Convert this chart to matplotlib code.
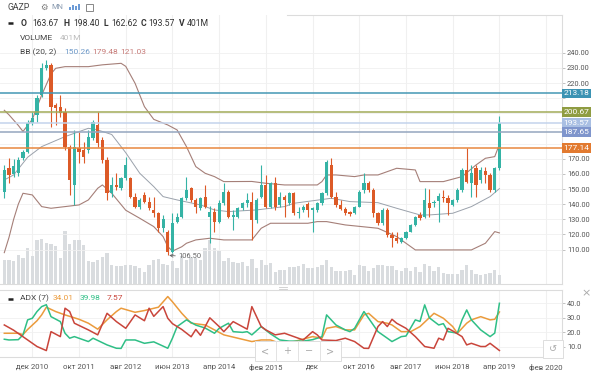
import matplotlib
matplotlib.use('Agg')
import matplotlib.pyplot as plt
from matplotlib.patches import Rectangle
from matplotlib.transforms import blended_transform_factory

plt.rcParams['font.family'] = ['Roboto', 'DejaVu Sans']

# ---------------- data (monthly candles, Jun 2010 .. Apr 2019) ----------------
opens = [148.3,163.7,159.8,160.4,170.3,174.7,193.4,198.9,212.1,229.7,
         231.9,205.5,204.4,201.0,178.0,152.7,176.9,175.8,175.8,183.5,
         192.3,182.4,169.2,147.2,152.7,150.5,157.1,157.1,145.0,138.4,
         146.1,141.7,136.2,134.0,124.1,121.9,108.7,128.5,131.8,143.9,
         150.5,142.8,137.3,145.0,131.8,135.1,128.5,140.6,148.3,131.8,
         131.8,137.3,140.6,141.7,129.6,145.0,152.7,138.4,153.8,139.5,
         145.0,140.6,147.2,134.0,136.2,140.1,136.2,136.2,140.6,147.2,
         165.9,145.0,139.5,136.6,134.6,134.0,138.4,149.4,153.8,149.4,
         134.0,127.4,136.2,119.7,117.9,115.3,117.5,121.9,126.3,132.9,
         131.8,140.6,140.6,142.3,145.0,143.9,139.5,142.8,149.4,162.6,
         153.8,163.7,156.0,161.9,159.3,149.4,163.67]
highs = [165.9,170.3,170.0,171.0,175.8,195.6,201.0,212.1,233.0,235.2,
         233.0,207.0,212.0,203.3,179.1,189.0,187.9,181.3,189.0,195.6,
         201.1,184.6,171.4,158.2,160.4,158.2,171.4,158.2,147.2,144.0,
         148.3,145.0,145.0,135.1,133.0,123.0,134.0,134.0,145.0,158.2,
         151.6,143.9,145.0,152.7,139.0,137.3,142.8,153.8,149.4,136.2,
         138.4,141.7,147.2,148.3,143.9,165.9,159.3,154.9,158.2,148.3,
         146.1,148.3,148.3,138.4,139.5,141.7,138.0,141.7,148.3,169.2,
         170.3,148.3,142.8,138.4,135.5,139.0,149.4,160.4,155.0,150.5,
         135.1,137.3,137.3,121.9,121.9,118.5,122.5,127.0,132.5,135.1,
         150.5,149.8,142.8,147.2,149.4,146.1,143.5,150.5,163.7,176.9,
         165.9,165.9,164.8,164.8,160.4,164.8,198.40]
lows = [143.9,153.8,158.0,158.5,169.0,173.6,192.3,194.5,211.0,228.6,
        191.2,192.3,197.8,175.8,146.1,139.5,167.0,167.0,173.6,182.4,
        178.0,167.0,142.8,145.0,149.4,149.4,156.0,143.9,137.3,137.0,
        140.6,136.2,131.8,121.9,121.9,106.5,107.6,127.4,130.7,142.8,
        141.7,134.0,136.2,137.3,114.2,121.9,127.4,139.5,130.7,123.0,
        131.0,136.0,138.4,116.4,127.4,143.9,137.3,137.3,136.2,138.4,
        131.8,139.5,132.9,130.7,135.0,131.8,121.9,135.0,139.5,146.1,
        143.9,138.4,136.2,132.9,132.5,133.5,138.0,147.2,148.3,131.8,
        126.3,126.3,118.6,112.0,114.6,114.5,117.0,121.5,125.5,129.6,
        130.7,131.8,138.4,128.5,141.7,132.9,139.0,141.7,148.3,154.0,
        145.0,145.0,153.8,153.8,148.3,148.3,162.62]
closes = [162.6,159.3,165.0,169.2,174.7,193.4,196.7,209.9,229.7,231.9,
          204.4,203.3,200.0,178.0,156.0,178.0,174.7,171.4,184.6,194.5,
          180.2,169.2,147.2,152.7,151.6,157.1,165.9,145.0,138.4,142.8,
          141.7,137.3,134.0,124.1,130.0,108.7,127.4,131.8,143.9,149.4,
          142.8,138.4,143.9,138.4,135.1,128.5,140.6,148.3,131.8,133.0,
          137.3,140.6,142.8,129.6,142.8,152.7,138.4,153.8,138.4,145.0,
          142.8,147.2,134.0,135.0,138.4,136.2,137.3,140.6,147.2,168.1,
          145.0,139.5,136.6,134.0,133.5,138.4,148.3,153.8,149.4,134.0,
          127.4,136.2,119.7,117.5,115.7,117.5,121.9,126.3,131.8,130.7,
          142.8,137.3,141.7,145.4,143.9,140.6,142.8,149.4,162.6,154.9,
          160.4,152.7,162.6,159.3,149.4,163.7,193.57]
volumes = [1045,1045,1002,1260,1118,1548,1187,1905,1948,1763,
           1720,1617,1118,2292,1720,1905,1905,1690,972,946,
           1045,1144,1333,830,757,757,830,800,757,688,
           516,800,1045,1088,860,830,972,688,1187,1045,
           1144,1118,1045,1548,1905,1548,1402,972,1118,946,
           903,946,757,1088,688,1045,830,903,516,615,
           594,710,714,757,860,688,688,714,830,1045,
           714,572,542,542,615,400,830,757,572,688,
           800,800,757,757,615,542,688,572,714,516,
           860,757,542,714,473,430,430,430,615,800,
           615,430,400,430,473,615,401]

# Bollinger bands (20, 2)
bb_up_idx = [0,1,3,4,6,8,10,11,13,18,21,25,26,28,30,32,35,37,39,41,
             43,45,47,53,56,60,67,68,69,71,75,77,80,84,88,89,94,98,101,103,105,106]
bb_up_val = [202,199,192,188,196,212,226,229.7,230.8,230.8,232,233,231,219.8,204.4,196,192.3,189,178,164.8,
             160.4,158.2,154.9,155,153.8,152.7,152.7,154.9,159.3,159.3,158.2,159.3,159.3,163.7,162.6,154.9,154.9,158.2,165.9,170.3,171.4,179.48]
bb_mid_idx = [0,2,5,8,13,18,20,23,26,29,32,34,37,42,45,48,54,60,62,70,74,80,84,89,91,96,100,104,106]
bb_mid_val = [156,159.3,171,178,184.6,190.1,189,186,174,160.4,151.6,145,142.8,139.5,136.2,135.1,136.2,138.4,140.6,143.9,
              141.7,141,137.3,132.9,132.9,134,138.4,145,150.26]
bb_lo_idx = [0,1,2,3,4,6,8,10,13,16,18,20,21,23,26,29,32,34,35,36,
             38,39,41,44,47,53,55,57,65,67,69,73,80,84,88,94,100,103,105,106]
bb_lo_val = [108,118,130,140,147.2,146.1,138.4,137.3,138.4,139.5,142.8,150.5,152.7,147.2,136,130.7,125.2,118.6,112,109,
             111.9,114.2,116.4,117.5,116.4,116.4,124.1,127.4,127.4,128.5,128.5,126.3,124.1,118.6,109.8,109.8,109.8,114.2,121.9,121.03]

# ADX (7): ADX, +DI, -DI
adx_idx = [0,3,4,5,7,8,9,11,13,16,18,20,22,24,25,28,30,33,35,36,38,40,43,45,47,50,53,55,57,59,
           62,66,68,69,71,73,75,77,78,80,82,83,85,87,89,92,94,96,97,99,100,102,104,105,106]
adx_val = [19.4,19.4,18.5,22,28,32,37.3,34.3,32,29,26.3,22.2,28.6,34.3,36.6,33.8,35,37.3,44.6,41,
           33.1,26.3,25.1,21.7,18.3,16,13.7,14.8,14.8,12.5,13.7,17.1,16,22.8,24,21.7,21.7,32,33.1,27.4,
           26.3,25.1,20.5,20.5,24,33.1,29.7,24,19.4,26.3,28.6,30.8,28.6,29,34.01]
pdi_idx = [0,1,3,4,5,6,7,8,9,10,12,13,14,15,18,19,22,24,25,26,28,30,32,35,36,37,39,41,42,43,
           45,46,48,49,51,52,53,55,57,59,61,64,66,68,69,71,73,74,75,77,78,80,82,83,85,86,88,89,90,91,
           93,94,95,97,98,99,100,102,104,105,106]
pdi_val = [15.3,14.8,15,18.3,28.6,29.7,34.3,37.7,39,30.8,27.4,19.4,16,17.1,13.7,16,11.4,9.1,9,14.8,
           14.8,12.5,13.5,9.1,16,24,28.6,25,24,23,19.4,22.8,26.3,20.5,20,20.5,18.3,24,19,14.8,
           14,14,15,17,32,25.1,21.7,20.5,22.8,34.3,29.7,20.5,16,13.7,17.1,17.5,28.6,27.5,38.9,30,
           25.1,26,20.5,19.5,28.6,35.4,28.6,21.7,17.1,19.5,39.98]
mdi_idx = [0,2,5,7,9,10,12,13,14,15,18,20,22,24,26,28,30,31,32,34,35,36,38,40,41,42,44,46,47,49,
           52,53,55,56,58,60,62,64,66,67,68,71,73,75,77,78,80,81,82,83,84,86,88,90,92,93,94,95,96,98,
           99,100,102,103,104,106]
mdi_val = [25.1,21.5,14.8,10.3,7.5,20.5,17.1,36.6,34.3,26.3,21.7,18.3,33.1,27.4,22.8,32,28,36.6,31,37.7,
           29.7,26,22,17,22,18,30,24,20.5,27.4,22.2,37.7,24,21.7,18.3,19.4,17.1,14.8,20.5,18.3,
           14.8,14.4,16,13.7,9.1,9,24,27.4,24,29,26.3,22.8,17.1,10.3,9.1,16,14.8,22.8,21,17.1,
           11.4,12.5,10.3,10.3,12.5,7.57]

level_values = [193.57, 213.18, 200.67, 187.65, 177.14]
level_colors = ['#a9bfe3', '#3b93b3', '#8f9c42', '#7f95cc', '#e27a30']
level_line_colors = ['#c3d3ec', '#4497b4', '#a2ab58', '#94a6bf', '#e8873e']

price_ticks = list(range(110, 250, 10))
price_hidden = [180, 190, 200, 210]   # covered by the level labels in the reference
adx_ticks = [10, 20, 30, 40]
x_tick_idx = [6, 16, 26, 36, 46, 56, 66, 76, 86, 96, 106, 116]
x_tick_labels = ['дек 2010', 'окт 2011', 'авг 2012', 'июн 2013', 'апр 2014', 'фев 2015',
                 'дек', 'окт 2016', 'авг 2017', 'июн 2018', 'апр 2019', 'фев 2020']
low_mark = (35, 106.50)

# ---------------- figure ----------------
W, H = 600, 375
fig = plt.figure(figsize=(6, 3.75), dpi=100)
fig.patch.set_facecolor('white')

def fr(x0, y0, x1, y1):
    return [x0 / W, 1 - y1 / H, (x1 - x0) / W, (y1 - y0) / H]

XL = (-0.92, 119.4)
UP, DN = '#35b3a5', '#dc5a27'
GRID = '#f0f0f0'
SP = '#dcdcdc'
TXT = '#555555'

# volume axes (bottom layer)
axv = fig.add_axes(fr(0, 15, 562, 284))
n = len(closes)
xs = list(range(n))
axv.bar(xs, volumes, width=0.72, color='#d9dcdf', zorder=2)
axv.set_xlim(*XL)
axv.set_ylim(0, 11570)
for t in x_tick_idx:
    axv.axvline(t, color=GRID, lw=0.8, zorder=0)
axv.set_xticks([]); axv.set_yticks([])
for s in axv.spines.values():
    s.set_visible(False)

# price axes
ax = fig.add_axes(fr(0, 15, 562, 284), sharex=axv)
ax.patch.set_visible(False)
ax.set_ylim(87.3, 264.9)
ax.set_xlim(*XL)
for p in price_ticks:
    ax.axhline(p, color=GRID, lw=0.6, zorder=0)

colors = [UP if c >= o else DN for o, c in zip(opens, closes)]
ax.vlines(xs, lows, highs, colors=colors, lw=0.8, zorder=3)
bottoms = [min(o, c) for o, c in zip(opens, closes)]
heights = [max(abs(c - o), 0.5) for o, c in zip(opens, closes)]
ax.bar(xs, heights, bottom=bottoms, width=0.68, color=colors, zorder=4)

ax.plot(bb_up_idx, bb_up_val, color='#a57f78', lw=0.8, zorder=2)
ax.plot(bb_lo_idx, bb_lo_val, color='#a57f78', lw=0.8, zorder=2)
ax.plot(bb_mid_idx, bb_mid_val, color='#9aa1ab', lw=0.7, zorder=2)

for v, lc in zip(level_values, level_line_colors):
    ax.axhline(v, color=lc, lw=1.1, zorder=5)

ax.yaxis.tick_right()
ax.set_yticks(price_ticks)
ax.set_yticklabels(['' if p in price_hidden else '%.2f' % p for p in price_ticks])
ax.tick_params(axis='y', length=2, width=0.5, color='#aaaaaa', pad=1.5,
               labelsize=5.3, labelcolor=TXT)
ax.tick_params(axis='x', bottom=False, labelbottom=False)
for k, s in ax.spines.items():
    s.set_visible(k == 'right' or k == 'bottom')
    s.set_color(SP); s.set_linewidth(0.8)

tr = blended_transform_factory(ax.transAxes, ax.transData)
for v, bc in zip(level_values, level_colors):
    ax.text(1.0025, v, '%.2f' % v, transform=tr, ha='left', va='center',
            fontsize=6, color='white', clip_on=False, zorder=20,
            bbox=dict(boxstyle='square,pad=0.22', fc=bc, ec='none'))

ax.annotate('%.2f' % low_mark[1], xy=(low_mark[0] + 0.3, low_mark[1] - 0.3),
            xytext=(low_mark[0] + 2.2, low_mark[1] - 1.3),
            fontsize=5.4, color='#666666', va='center', ha='left', zorder=6,
            arrowprops=dict(arrowstyle='->', color='#666666', lw=0.6,
                            shrinkA=0, shrinkB=0))

# ADX axes
axa = fig.add_axes(fr(0, 290, 562, 357))
axa.set_xlim(*XL)
axa.set_ylim(3.1, 49.1)
for t in x_tick_idx:
    axa.axvline(t, color=GRID, lw=0.8, zorder=0)
for t in adx_ticks:
    axa.axhline(t, color=GRID, lw=0.6, zorder=0)
axa.plot(adx_idx, adx_val, color='#eb9b3c', lw=1.1, zorder=3)
axa.plot(pdi_idx, pdi_val, color='#2fbf86', lw=1.1, zorder=4)
axa.plot(mdi_idx, mdi_val, color='#c9453b', lw=1.1, zorder=5)
axa.yaxis.tick_right()
axa.set_yticks(adx_ticks)
axa.set_yticklabels(['%.1f' % t for t in adx_ticks])
axa.tick_params(axis='y', length=2, width=0.5, color='#aaaaaa', pad=1.5,
                labelsize=5.3, labelcolor=TXT)
axa.set_xticks(x_tick_idx)
axa.set_xticklabels(x_tick_labels)
axa.tick_params(axis='x', length=0, pad=5, labelsize=5.6, labelcolor=TXT)
for k, s in axa.spines.items():
    s.set_visible(k != 'left')
    s.set_color(SP); s.set_linewidth(0.8)

# overlay in pixel coordinates
ov = fig.add_axes([0, 0, 1, 1])
ov.set_xlim(0, W); ov.set_ylim(H, 0)
ov.axis('off')
ov.patch.set_visible(False)
ov.set_zorder(10)

ov.plot([287, 562], [15, 15], color=SP, lw=0.8)

# legend rows
ov.text(7, 7.5, 'GAZP', fontsize=6.3, color='#444444', va='center')
ov.text(40, 7.5, '⚙', fontsize=6, color='#777777', va='center', family='DejaVu Sans')
ov.text(51, 7.5, 'MN', fontsize=5.4, color='#8a9bb0', va='center')
for bx, bh in zip([69, 72, 75, 78], [3, 5, 4, 6]):
    ov.add_patch(Rectangle((bx, 10 - bh), 2, bh, color='#6c9bd6', lw=0))
ov.add_patch(Rectangle((86, 3.5), 6.5, 7, fill=False, ec='#888888', lw=0.7))

ov.plot([8, 13], [23.3, 23.3], color='#222222', lw=1.8, solid_capstyle='butt')
row2 = [(20.5, 'O', True), (32, '163.67', False), (63, 'H', True), (73, '198.40', False),
        (104, 'L', True), (111, '162.62', False), (141, 'C', True), (148, '193.57', False),
        (179, 'V', True), (187, '401M', False)]
for x, s, b in row2:
    ov.text(x, 23.3, s, fontsize=6.2, color='#333333', va='center',
            fontweight='bold' if b else 'normal')
ov.text(20, 37.8, 'VOLUME', fontsize=6.0, color='#444444', va='center')
ov.text(60, 37.8, '401M', fontsize=6.0, color='#bbbbbb', va='center')
ov.text(20, 52.5, 'BB (20, 2)', fontsize=6.0, color='#444444', va='center')
ov.text(64, 52.5, '150.26', fontsize=6.0, color='#6f9ac9', va='center')
ov.text(92, 52.5, '179.48', fontsize=6.0, color='#c77b78', va='center')
ov.text(120, 52.5, '121.03', fontsize=6.0, color='#c77b78', va='center')

# ADX legend
ov.plot([8, 12.5], [298.5, 298.5], color='#222222', lw=1.8, solid_capstyle='butt')
ov.text(20, 298.5, 'ADX (7)', fontsize=6.0, color='#444444', va='center')
ov.text(53, 298.5, '34.01', fontsize=6.0, color='#eb9b3c', va='center')
ov.text(80, 298.5, '39.98', fontsize=6.0, color='#2fbf86', va='center')
ov.text(107, 298.5, '7.57', fontsize=6.0, color='#c9453b', va='center')

# panel separator handle
ov.plot([279, 287], [287, 287], color='#cccccc', lw=0.6)
ov.plot([279, 287], [288.8, 288.8], color='#cccccc', lw=0.6)

# navigation buttons
ov.add_patch(Rectangle((255, 341), 86, 20, fc='white', ec='#dddddd', lw=0.7))
for sx in [276, 298, 320]:
    ov.plot([sx, sx], [341, 361], color='#e3e3e3', lw=0.7)
for cx, s in zip([265.5, 287, 309, 330], ['<', '+', '−', '>']):
    ov.text(cx, 351, s, fontsize=7, color='#aaaaaa', ha='center', va='center',
            family='DejaVu Sans')
ov.add_patch(Rectangle((543, 339.5), 19.5, 18.5, fc='white', ec='#dddddd', lw=0.7))
ov.text(552.7, 348.8, '↺', fontsize=7, color='#aaaaaa', ha='center', va='center',
        family='DejaVu Sans')
ov.text(586, 293, '×', fontsize=8, color='#aaaaaa', ha='center', va='center',
        family='DejaVu Sans')

fig.savefig('out.png', dpi=100, facecolor='white')
